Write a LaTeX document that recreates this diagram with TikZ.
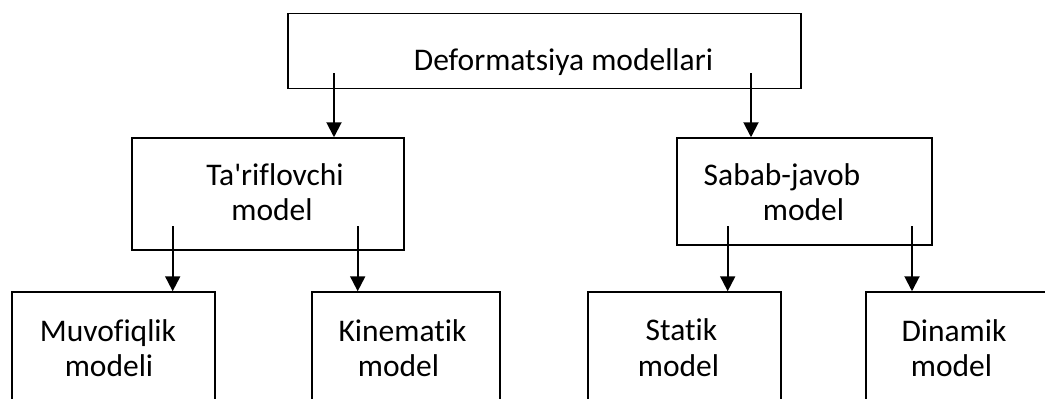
\documentclass[tikz,border=0pt]{standalone}
\usepackage{fontspec}
\setmainfont{Carlito}[Ligatures={NoCommon}]
\newfontfamily\rawcarlito{Carlito}
\usetikzlibrary{arrows.meta,calc}
\begin{document}
\begin{tikzpicture}[x=1pt,y=-1pt,
  box/.style={draw=black,line width=1.5pt,inner sep=0pt,fill=none},
  lbl/.style={anchor=base,inner sep=0pt,font=\fontsize{31.5}{36}\selectfont},
  arr/.style={line width=2pt,-{Triangle[width=15pt,length=15pt]}}]
\useasboundingbox (0,0) rectangle (1045,399);
\clip (0,0) rectangle (1045,399);
\fill[white] (0,0) rectangle (1045,399);
% boxes
\node[box,minimum width=513pt,minimum height=75pt] (top) at (544.5,51) {};
\node[box,minimum width=272pt,minimum height=112pt] (ml) at (268,194) {};
\node[box,minimum width=255pt,minimum height=107pt] (mr) at (804.5,191.5) {};
\node[box,minimum width=203pt,minimum height=140pt] (b1) at (113.4,362) {};
\node[box,minimum width=188pt,minimum height=140pt] (b2) at (406,362) {};
\node[box,minimum width=193pt,minimum height=140pt] (b3) at (684.5,362) {};
\node[box,minimum width=204pt,minimum height=140pt] (b4) at (968,362) {};
% texts
\node[lbl] (t0) at (563.5,70) {Deformatsiya modellari};
\node[lbl] (t1a) at (275,185) {Ta{\rawcarlito'}riflovchi};
\node[lbl] (t1b) at (272,220.7) {model};
\node[lbl] (t2a) at (782,185) {Sabab-javob};
\node[lbl] (t2b) at (803.5,220.7) {model};
\node[lbl] (t3a) at (108,341.7) {Muvofiqlik};
\node[lbl] (t3b) at (109,376) {modeli};
\node[lbl] (t4a) at (402.5,341) {Kinematik};
\node[lbl] (t4b) at (398.5,376) {model};
\node[lbl] (t5a) at (681.5,340) {Statik};
\node[lbl] (t5b) at (678.5,376) {model};
\node[lbl] (t6a) at (954,341) {Dinamik};
\node[lbl] (t6b) at (951.5,376) {model};
% arrow starts
\coordinate (s1) at (334,73);
\coordinate (s2) at (751,73);
\coordinate (s3) at (172.7,226);
\coordinate (s4) at (357.7,226);
\coordinate (s5) at (727.7,226);
\coordinate (s6) at (912,226);
\draw[arr] (s1) -- (s1 |- ml.north);
\draw[arr] (s2) -- (s2 |- mr.north);
\draw[arr] (s3) -- (s3 |- b1.north);
\draw[arr] (s4) -- (s4 |- b2.north);
\draw[arr] (s5) -- (s5 |- b3.north);
\draw[arr] (s6) -- (s6 |- b4.north);
\end{tikzpicture}
\end{document}
